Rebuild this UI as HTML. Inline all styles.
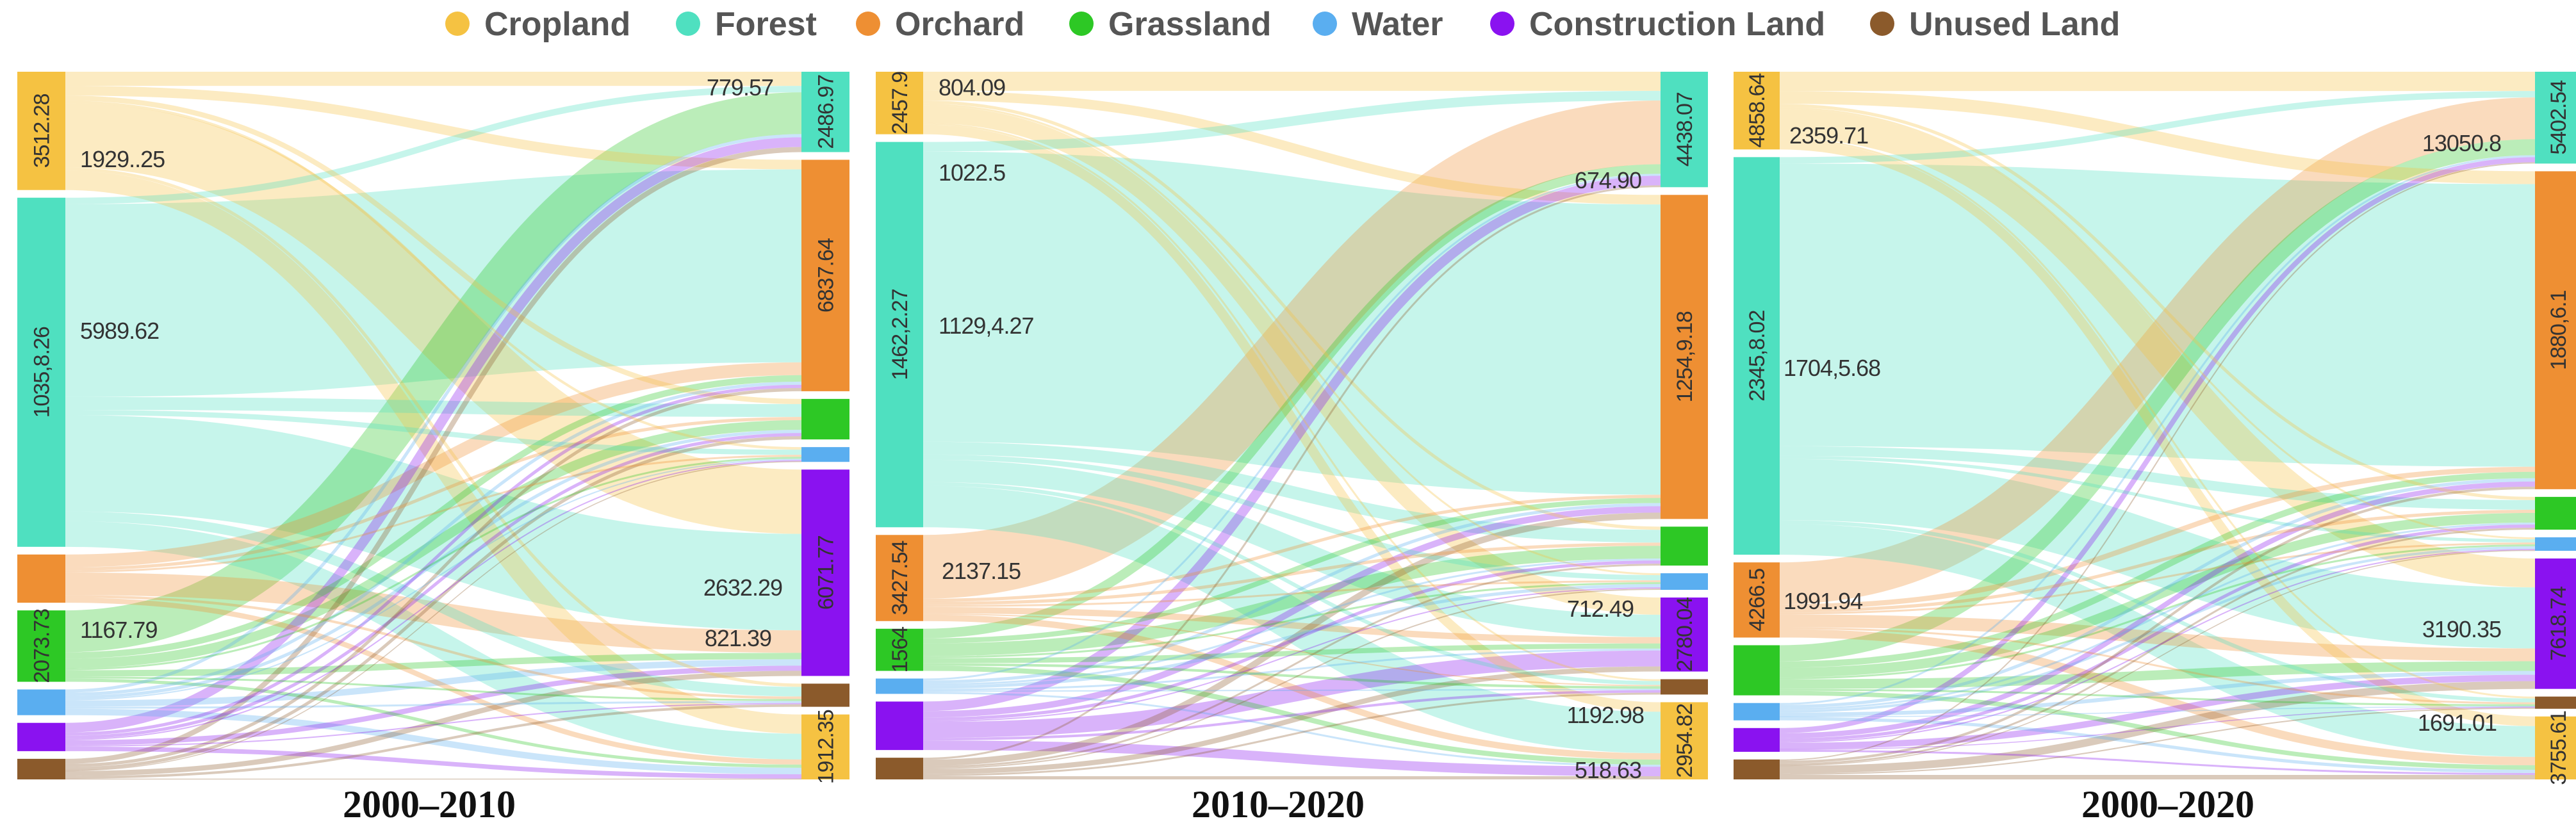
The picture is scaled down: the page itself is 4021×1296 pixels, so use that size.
<!DOCTYPE html>
<html><head><meta charset="utf-8">
<style>
html,body{margin:0;padding:0;background:#fff;}
svg{display:block;}
.lg{font-family:"Liberation Sans",sans-serif;font-weight:bold;font-size:52px;fill:#555;}
.fl{font-family:"Liberation Sans",sans-serif;font-size:36px;fill:#333;letter-spacing:-1px;}
.nl{font-family:"Liberation Sans",sans-serif;font-size:34px;fill:#333;letter-spacing:-1px;}
.tt{font-family:"Liberation Serif",serif;font-weight:bold;font-size:60px;fill:#111;}
</style></head>
<body>
<svg id="chart" width="4021" height="1296" viewBox="0 0 4021 1296" xmlns="http://www.w3.org/2000/svg">
<rect width="4021" height="1296" fill="#fff"/>
<g id="legend"></g>
<g id="panels"></g>
</svg>
<script>
const categories=["Cropland","Forest","Orchard","Grassland","Water","Construction Land","Unused Land"];
const colors=["#F5C242","#4FE0C0","#EE8F33","#2DC825","#5AAEF0","#8A12F0","#8B5A2B"];
// right-side node order (indices into categories)
const rightOrder=[1,2,3,4,5,6,0];
// flows: rows = left categories (order of categories), cols = rightOrder
const flows1=[
[22,15,8,4,100,5,30],
[10,300,20,8,150,15,40],
[0,20,5,3,35,4,8],
[65,10,15,3,10,3,5],
[5,5,5,2,10,3,10],
[15,5,5,2,8,2,7],
[8,5,5,1,8,4,1]];
const flows2=[
[30,15,5,3,27,3,15],
[15,455,20,8,35,6,65],
[100,5,5,3,10,2,10],
[15,8,20,3,8,4,8],
[3,5,3,5,3,2,3],
[15,10,5,2,25,4,15],
[3,10,3,2,8,3,5]];
const flows3=[
[30,20,5,3,45,3,15],
[10,440,15,5,95,6,48],
[65,8,5,3,20,3,13],
[25,10,15,3,15,3,7],
[3,5,3,4,6,1,5],
[8,8,5,2,10,1,3],
[2,4,3,1,12,2,7]];
const leftNodeLabels1=["3512.28","1035,8.26","","2073.73","","",""];
const rightNodeLabels1=["2486.97","6837.64","","","6071.77","","1912.35"];
const leftNodeLabels2=["2457.9","1462,2.27","3427.54","1564","","",""];
const rightNodeLabels2=["4438.07","1254,9.18","","","2780.04","","2954.82"];
const leftNodeLabels3=["4858.64","2345,8.02","4266.5","","","",""];
const rightNodeLabels3=["5402.54","1880,6.1","","","7618.74","","3755.61"];
const titles=["2000–2010","2010–2020","2000–2020"];

const NS="http://www.w3.org/2000/svg";
function mk(tag,attrs,parent){const e=document.createElementNS(NS,tag);for(const k in attrs)e.setAttribute(k,attrs[k]);parent.appendChild(e);return e;}

const legend=document.getElementById('legend');
const legX=[714,1074,1355,1688,2068,2345,2938];
categories.forEach((c,i)=>{
  const g=mk('g',{},legend);
  
  
  mk('circle',{cx:legX[i],cy:37,r:19,fill:colors[i]},g);
  const t=mk('text',{x:legX[i]+42,y:55,class:'lg'},g);t.textContent=c;
});

const panels=[
 {flows:flows1,ll:leftNodeLabels1,rl:rightNodeLabels1,xl:27,xr:1251,w:75,title:titles[0],tx:670,
  labels:[["1929..25",125,248,"start"],["5989.62",125,516,"start"],["1167.79",125,983,"start"],["779.57",1207,136,"end"],["2632.29",1221,917,"end"],["821.39",1204,996,"end"]]},
 {flows:flows2,ll:leftNodeLabels2,rl:rightNodeLabels2,xl:1367,xr:2592,w:74,title:titles[1],tx:1995,
  labels:[["804.09",1465,136,"start"],["1022.5",1465,269,"start"],["1129,4.27",1465,508,"start"],["2137.15",1470,891,"start"],["674.90",2562,281,"end"],["712.49",2550,950,"end"],["1192.98",2566,1116,"end"],["518.63",2562,1202,"end"]]},
 {flows:flows3,ll:leftNodeLabels3,rl:rightNodeLabels3,xl:2706,xr:3957,w:72,title:titles[2],tx:3384,
  labels:[["2359.71",2793,211,"start"],["1704,5.68",2784,574,"start"],["1991.94",2784,938,"start"],["13050.8",3904,223,"end"],["3190.35",3904,982,"end"],["1691.01",3897,1128,"end"]]}
];
const TOP=112,BOT=1217,GAP=12;
const root=document.getElementById('panels');
panels.forEach((p,pi)=>{
  const g=mk('g',{},root);
  
  
  const F=p.flows;
  const L=F.map(r=>r.reduce((a,b)=>a+b,0));
  const R=rightOrder.map((_,j)=>F.reduce((a,r)=>a+r[j],0));
  const tot=Math.max(L.reduce((a,b)=>a+b,0),R.reduce((a,b)=>a+b,0));
  const k=(BOT-TOP-6*GAP)/tot;
  const ly=[],ry=[];let y=TOP;
  L.forEach(v=>{ly.push(y);y+=v*k+GAP;});
  y=TOP;R.forEach(v=>{ry.push(y);y+=v*k+GAP;});
  const links=mk('g',{},g);
  
  
  const so=ly.slice(),to=ry.slice();
  const x0=p.xl+p.w,x1=p.xr,xm=(x0+x1)/2;
  const list=[];
  for(let i=0;i<7;i++)for(let j=0;j<7;j++){
    const w=F[i][j]*k;
    const y0=so[i]+w/2;so[i]+=w;
    const y1=to[j]+w/2;to[j]+=w;
    if(F[i][j]>0)list.push({i,j,w,y0,y1});
  }
  list.sort((a,b)=>b.w-a.w);
  list.forEach(l=>{
    const path=mk('path',{d:`M${x0},${l.y0} C${xm},${l.y0} ${xm},${l.y1} ${x1},${l.y1}`,fill:'none',stroke:colors[l.i],'stroke-width':Math.max(l.w,1.5),'stroke-opacity':0.32},links);
    
    
  });
  L.forEach((v,i)=>{
    const r=mk('rect',{x:p.xl,y:ly[i],width:p.w,height:v*k,fill:colors[i]},g);
    
    
    if(p.ll[i]){const cx=p.xl+p.w/2+12,cy=ly[i]+v*k/2;
      const t=mk('text',{x:cx,y:cy,class:'nl','text-anchor':'middle',transform:`rotate(-90 ${cx} ${cy})`},g);
      t.textContent=p.ll[i];
      
      }
  });
  R.forEach((v,j)=>{
    const c=rightOrder[j];
    const r=mk('rect',{x:p.xr,y:ry[j],width:p.w,height:v*k,fill:colors[c]},g);
    
    
    if(p.rl[j]){const cx=p.xr+p.w/2+12,cy=ry[j]+v*k/2;
      const t=mk('text',{x:cx,y:cy,class:'nl','text-anchor':'middle',transform:`rotate(-90 ${cx} ${cy})`},g);
      t.textContent=p.rl[j];
      
      }
  });
  p.labels.forEach(l=>{
    const t=mk('text',{x:l[1],y:l[2]+13,class:'fl','text-anchor':l[3]},g);
    t.textContent=l[0];
    
    
  });
  const tt=mk('text',{x:p.tx,y:1276,class:'tt','text-anchor':'middle'},g);
  tt.textContent=p.title;
  
  
});
</script>
</body></html>
